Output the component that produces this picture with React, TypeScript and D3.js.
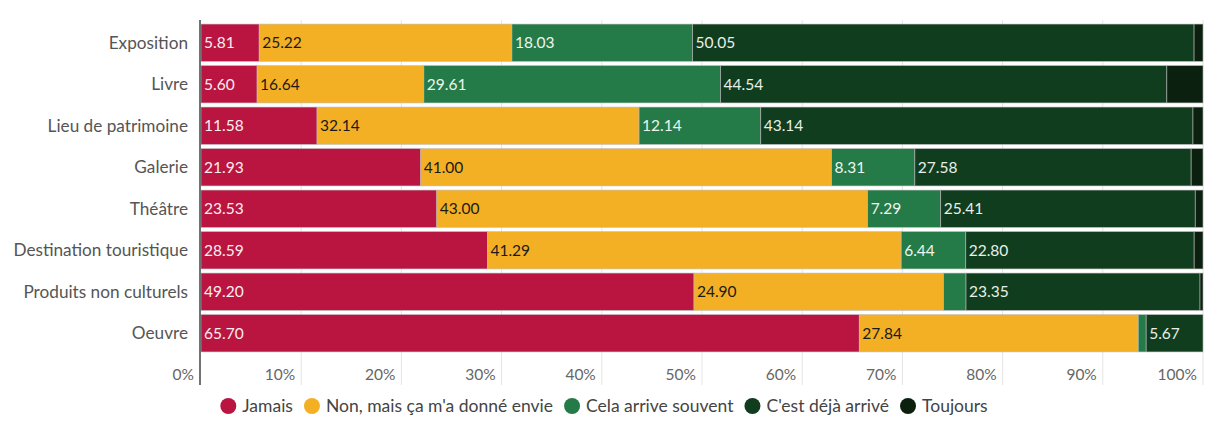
import { useEffect, useRef } from 'react';
import * as d3 from 'd3';

const categories = [
  'Exposition',
  'Livre',
  'Lieu de patrimoine',
  'Galerie',
  'Théâtre',
  'Destination touristique',
  'Produits non culturels',
  'Oeuvre',
];

const seriesNames = ['Jamais', "Non, mais ça m'a donné envie", 'Cela arrive souvent', "C'est déjà arrivé", 'Toujours'];
const seriesColors = ['#ba1540', '#f4b025', '#247b48', '#103d1e', '#0b200e'];
const labelColors = ['#fbeef1', '#1a1a1a', '#eef5ef', '#e8efe9', '#e8efe9'];

const jamais = [5.81, 5.6, 11.58, 21.93, 23.53, 28.59, 49.2, 65.7];
const nonMais = [25.22, 16.64, 32.14, 41.0, 43.0, 41.29, 24.9, 27.84];
const souvent = [18.03, 29.61, 12.14, 8.31, 7.29, 6.44, 2.25, 0.79];
const dejaArrive = [50.05, 44.54, 43.14, 27.58, 25.41, 22.8, 23.35, 5.67];
const toujours = [0.89, 3.61, 1.0, 1.18, 0.77, 0.88, 0.3, 0];

const tickValues = [0, 10, 20, 30, 40, 50, 60, 70, 80, 90, 100];

const W = 1208;
const H = 421;
const FONT = 'Lato, sans-serif';

export default function App() {
  const svgRef = useRef<SVGSVGElement>(null);

  useEffect(() => {
    const svg = d3.select(svgRef.current);
    svg.selectAll('*').remove();

    const series = [jamais, nonMais, souvent, dejaArrive, toujours];
    const rows = categories.map((c, i) => {
      const row: any = { cat: c };
      series.forEach((s, k) => (row['s' + k] = s[i]));
      return row;
    });
    const keys = series.map((_, k) => 's' + k);
    const stacked = d3.stack().keys(keys)(rows);

    const x = d3.scaleLinear().domain([0, 100]).range([201, 1203]);
    const y = d3.scaleBand().domain(categories).range([22, 354]).paddingInner(0.1).paddingOuter(0.05);

    // grid
    svg.append('g').selectAll('line').data(tickValues.slice(1)).enter().append('line')
      .attr('x1', d => x(d)).attr('x2', d => x(d))
      .attr('y1', 20).attr('y2', 385)
      .attr('stroke', '#e4e4e4').attr('stroke-width', 1);

    // tick labels
    svg.append('g').selectAll('text').data(tickValues).enter().append('text')
      .attr('x', d => (d === 0 ? 194 : x(d) - 6))
      .attr('y', 380)
      .attr('text-anchor', 'end')
      .attr('font-family', FONT).attr('font-size', 15.5).attr('fill', '#666')
      .text(d => d + '%');

    // bars
    stacked.forEach((layer, k) => {
      const g = svg.append('g');
      g.selectAll('rect').data(layer).enter().append('rect')
        .attr('x', d => x(d[0]))
        .attr('y', d => y(d.data.cat)!)
        .attr('width', d => Math.max(0, x(d[1]) - x(d[0])))
        .attr('height', y.bandwidth())
        .attr('fill', seriesColors[k])
        .attr('stroke', 'rgba(190,190,190,0.7)')
        .attr('stroke-width', 0.8);
      g.selectAll('text').data(layer.filter(d => d[1] - d[0] >= 5)).enter().append('text')
        .attr('x', d => x(d[0]) + 3)
        .attr('y', d => y(d.data.cat)! + y.bandwidth() / 2)
        .attr('dy', '0.36em')
        .attr('font-family', FONT).attr('font-size', 15.5)
        .attr('fill', labelColors[k])
        .text(d => (d[1] - d[0]).toFixed(2));
    });

    // category labels
    svg.append('g').selectAll('text').data(categories).enter().append('text')
      .attr('x', 188)
      .attr('y', d => y(d)! + y.bandwidth() / 2)
      .attr('dy', '0.36em')
      .attr('text-anchor', 'end')
      .attr('font-family', FONT).attr('font-size', 17.2).attr('fill', '#555')
      .text(d => d);

    // zero axis
    svg.append('line')
      .attr('x1', 200).attr('x2', 200).attr('y1', 20).attr('y2', 385)
      .attr('stroke', '#444').attr('stroke-width', 1.5);

    // legend
    const legend = svg.append('g');
    let cx = 0;
    const gap = 11;
    seriesNames.forEach((name, k) => {
      legend.append('circle').attr('cx', cx + 8).attr('cy', 406).attr('r', 8).attr('fill', seriesColors[k]);
      const t = legend.append('text')
        .attr('x', cx + 22).attr('y', 406).attr('dy', '0.36em')
        .attr('font-family', FONT).attr('font-size', 17.5).attr('fill', '#444')
        .text(name);
      cx += 22 + (t.node() as SVGTextElement).getComputedTextLength() + gap;
    });
    const lw = cx - gap;
    legend.attr('transform', `translate(${(W - lw) / 2},0)`);
  }, []);

  return (
    <svg ref={svgRef} width={W} height={H}
      style={{ position: 'absolute', top: 0, left: 0, background: '#fff' }} />
  );
}
